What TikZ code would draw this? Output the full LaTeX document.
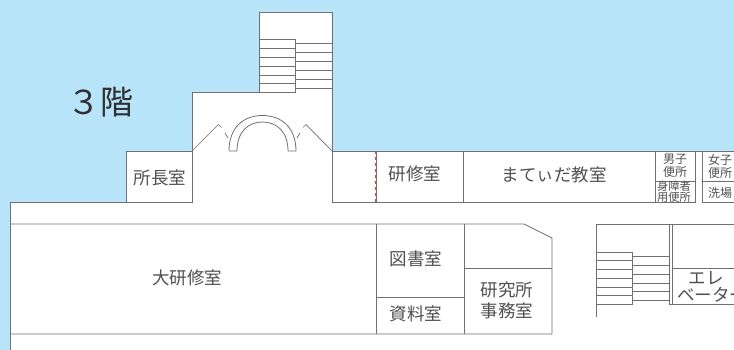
\documentclass[tikz,border=0pt]{standalone}
\usepackage{fontspec}
\setmainfont{Noto Sans CJK JP}
\definecolor{seablue}{HTML}{B8E4FA}
\definecolor{wallgray}{HTML}{707070}
\definecolor{doorred}{HTML}{C0505A}
\definecolor{labelgray}{HTML}{505050}
\definecolor{floorgray}{HTML}{303030}
\tikzset{
    wall/.style={draw=wallgray, line width=0.8pt},
    roomlabel/.style={text=labelgray, font=\fontsize{17.5}{21}\selectfont, align=center, inner sep=0pt},
    smalllabel/.style={text=labelgray, font=\fontsize{12}{13}\selectfont, align=center, inner sep=0pt},
    tinylabel/.style={text=labelgray, font=\fontsize{11.3}{9.5}\selectfont, align=center, inner sep=0pt}
}
\begin{document}
\begin{tikzpicture}[x=1pt, y=-1pt]
    \useasboundingbox (0,0) rectangle (734,350);
    \clip (0,0) rectangle (734,350);
    \fill[seablue] (0,0) rectangle (734,350);
    % floor outline
    \fill[white] (10,350) -- (10,202) -- (126,202) -- (126,151) -- (192,151) -- (192,92) -- (259,92) -- (259,12) -- (332,12) -- (332,151) -- (734,151) -- (734,350) -- cycle;
    \draw[wall] (10,350) -- (10,202) -- (126,202) -- (126,151) -- (192,151) -- (192,92) -- (259,92) -- (259,12) -- (332,12) -- (332,202) -- (655,202);
    \draw[wall] (126,202) -- (192,202) -- (192,151);
    \draw[wall] (332,151) -- (734,151);

    % upper rooms
    \draw[wall] (376,151) -- (376,202);
    \draw[doorred, line width=1.2pt, dash pattern=on 3pt off 3pt] (376,151) -- (376,202);
    \draw[wall] (463,151) -- (463,202);
    \draw[wall] (655,151) -- (655,202) -- (695,202) -- (695,151);
    \draw[wall] (655,181) -- (695,181);
    \draw[wall] (734,202) -- (702,202) -- (702,151);
    \draw[wall] (702,181) -- (734,181);

    % tower stairs
    \draw[wall] (259,39) rectangle (295,92);
    \foreach \y in {48,57,66,75,83.5} {
        \draw[wall] (259,\y) -- (295,\y);
    }
    \foreach \y in {43.5,52,61,70,79,88} {
        \draw[wall] (295,\y) -- (332,\y);
    }

    % entrance
    \draw[wall] (229,151) -- (237,151) .. controls (237,132) and (248,122) .. (262.5,122) .. controls (277,122) and (288,132) .. (288,151) -- (296,151) .. controls (296,128) and (282,115.5) .. (262.5,115.5) .. controls (243,115.5) and (229,128) .. (229,151);
    \draw[wall, line width=0.7pt] (192,151) -- (218.5,124.5) -- (221.5,127.5);
    \draw[wall, line width=0.7pt] (332,151) -- (306,124.5) -- (303,127.5);
    \draw[wall, line width=0.7pt] (225,133) -- (228,138);
    \draw[wall, line width=0.7pt] (300,133) -- (297,138);

    % lower rooms
    \draw[wall] (734,224) -- (596,224) -- (596,317);
    \draw[wall] (10,224) -- (524,224) -- (552,238) -- (552,334) -- (10,334);
    \draw[wall] (376,224) -- (376,334);
    \draw[wall] (464,224) -- (464,334);
    \draw[wall] (376,297) -- (464,297);
    \draw[wall] (464,268) -- (552,268);

    % right stairs
    \draw[wall] (596,252) rectangle (632,304);
    \foreach \y in {260.5,269,278,287,295.5} {
        \draw[wall] (596,\y) -- (632,\y);
    }
    \foreach \y in {256,265,274,283,291.5,300} {
        \draw[wall] (632,\y) -- (669,\y);
    }
    \draw[wall] (669,224) -- (669,304) -- (734,304);
    \draw[wall] (672,224) -- (672,304);
    \draw[wall] (672,268) -- (734,268);

    % labels
    \node[text=floorgray, font=\fontsize{33}{36}\selectfont, inner sep=0pt] (floor) at (100,102) {３階};
    \node[roomlabel] (director) at (160,178) {所長室};
    \node[roomlabel] (training) at (415,174) {研修室};
    \node[roomlabel] (classroom) at (554,175) {まてぃだ教室};
    \node[roomlabel] (hall) at (187,278) {大研修室};
    \node[roomlabel] (library) at (416,259) {図書室};
    \node[roomlabel] (archive) at (416,314) {資料室};
    \node[roomlabel] (office) at (507,300) {研究所\\事務室};
    \node[roomlabel] (liftone) at (706,278) {エレ};
    \node[roomlabel] (lifttwo) at (712,295) {ベーター};
    \node[smalllabel] (men) at (675,166) {男子\\便所};
    \node[smalllabel] (women) at (720,166) {女子\\便所};
    \node[smalllabel] (wash) at (720,193) {洗場};
    \node[tinylabel] (access) at (674,191.5) {身障者\\用便所};
\end{tikzpicture}
\end{document}
